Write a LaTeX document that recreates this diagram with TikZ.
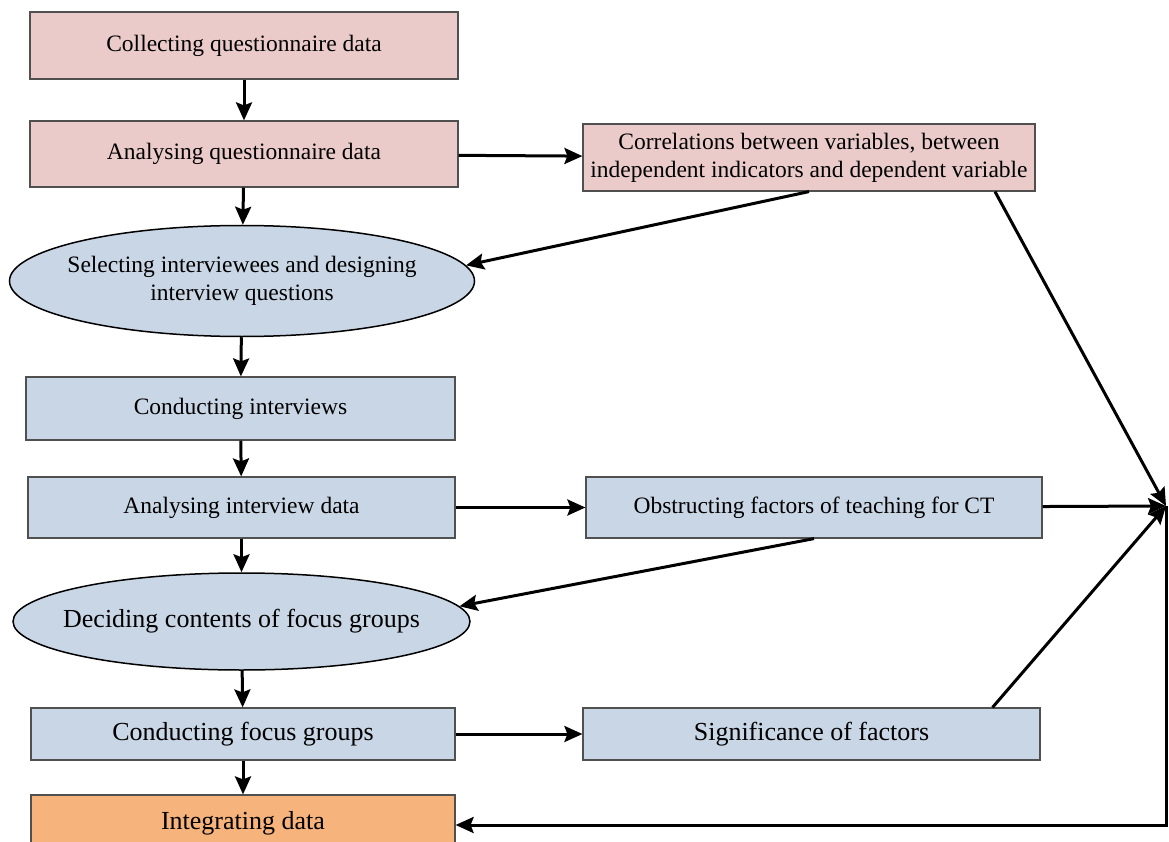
\documentclass[tikz,border=0pt]{standalone}
\usepackage{fontspec}
\setmainfont{Liberation Serif}
\usetikzlibrary{arrows.meta,shapes.geometric}
\definecolor{qpink}{HTML}{EBCBCA}
\definecolor{iblue}{HTML}{C9D6E5}
\definecolor{intorange}{HTML}{F6B37C}
\definecolor{boxline}{HTML}{505050}
% text of zero width, so that the ellipse keeps its given size
\newcommand\ovaltext[1]{\makebox[0pt]{\begin{tabular}{@{}c@{}}#1\end{tabular}}}
\begin{document}
\begin{tikzpicture}[x=1pt, y=-1pt, >={Stealth[length=18pt, width=16pt, inset=3pt]},
    every node/.style={font=\fontsize{23.5}{28}\selectfont},
    box/.style={draw=boxline, line width=1.2pt, inner sep=0pt, align=center},
    oval/.style={ellipse, draw=black, line width=1.5pt, fill=iblue, inner sep=0pt},
    big/.style={font=\fontsize{26}{30}\selectfont},
    flow/.style={->, line width=3pt}]
  \useasboundingbox (0,0) rectangle (1169,842);
  % questionnaire part
  \node[box, fill=qpink, minimum width=428, minimum height=67] (collect) at (244,45.5) {Collecting questionnaire data};
  \node[box, fill=qpink, minimum width=428, minimum height=66] (analyseq) at (244,154) {Analysing questionnaire data};
  \node[box, fill=qpink, minimum width=452, minimum height=67] (corr) at (809,157.5) {Correlations between variables, between\\independent indicators and dependent variable};
  % interviews
  \node[oval, minimum width=465, minimum height=111] (select) at (242,281) {\ovaltext{Selecting interviewees and designing\\interview questions}};
  \node[box, fill=iblue, minimum width=429, minimum height=63] (conductint) at (240.5,408.5) {Conducting interviews};
  \node[box, fill=iblue, minimum width=427, minimum height=61] (analyseint) at (241.5,507.5) {Analysing interview data};
  \node[box, fill=iblue, minimum width=456, minimum height=61] (obstruct) at (814,507.5) {Obstructing factors of teaching for CT};
  % focus groups
  \node[oval, big, minimum width=457, minimum height=97] (decide) at (241.5,621.5) {\ovaltext{Deciding contents of focus groups}};
  \node[box, big, fill=iblue, minimum width=424, minimum height=52] (conductfg) at (243,734) {Conducting focus groups};
  \node[box, big, fill=iblue, minimum width=457, minimum height=52] (signif) at (811.5,734) {Significance of factors};
  \node[box, big, fill=intorange, minimum width=424, minimum height=56] (integrate) at (243,823) {Integrating data};
  \coordinate (hub) at (1166,506);
  \coordinate (corner) at (1166,825);

  \draw[flow] (collect) -- (analyseq);
  \draw[flow] (analyseq) -- (select);
  \draw[flow] (select) -- (conductint);
  \draw[flow] (conductint) -- (analyseint);
  \draw[flow] (analyseint) -- (decide);
  \draw[flow] (decide) -- (conductfg);
  \draw[flow] (conductfg) -- (integrate);
  \draw[flow] (analyseq) -- (corr);
  \draw[flow] (analyseint) -- (obstruct);
  \draw[flow] (conductfg) -- (signif);
  \draw[flow] (corr.south) -- (select.4);
  \draw[flow] (obstruct.south) -- (decide.4);
  \draw[flow] ([xshift=186]corr.south) -- (hub);
  \draw[flow] (obstruct) -- (hub);
  \draw[flow] ([xshift=181]signif.north) -- (hub);
  \draw[flow] (hub) -- (corner) -- (integrate.east |- corner);
\end{tikzpicture}
\end{document}
